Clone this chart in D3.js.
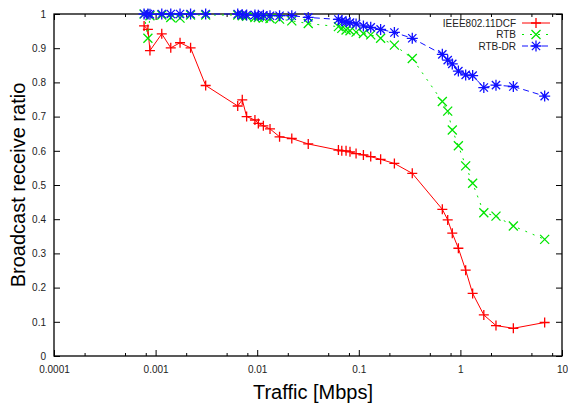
<!DOCTYPE html>
<html>
<head>
<meta charset="utf-8">
<script src="https://cdn.jsdelivr.net/npm/d3@7"></script>
<style>
body { margin:0; background:#fff; }
text { font-family: "Liberation Sans", Arial, sans-serif; }
.tick text { font-size:10px; fill:#222; }
.label { font-size:20px; fill:#000; }
.legend { font-size:10px; fill:#222; }
</style>
</head>
<body>
<svg id="chart"></svg>
<script>
// traffic loads (Mbps), shared by all three runs
var traffic = [0.00077, 0.00084, 0.00088, 0.00115, 0.00141, 0.00174, 0.00221, 0.00311,
    0.00643, 0.00713, 0.00787, 0.0095, 0.01026, 0.0115, 0.01337, 0.0166, 0.0219, 0.0318,
    0.063, 0.068, 0.0749, 0.0819, 0.094, 0.111, 0.131, 0.164, 0.224, 0.336,
    0.664, 0.75, 0.832, 0.955, 1.127, 1.32, 1.7, 2.24, 3.32, 6.75];

var dcf = [0.965, 0.955, 0.893, 0.942, 0.901, 0.916, 0.901, 0.791,
    0.731, 0.749, 0.700, 0.690, 0.680, 0.673, 0.664, 0.641, 0.636, 0.620,
    0.602, 0.600, 0.600, 0.597, 0.592, 0.588, 0.583, 0.575, 0.563, 0.534,
    0.429, 0.398, 0.359, 0.315, 0.251, 0.183, 0.120, 0.089, 0.081, 0.098];

var rtb = [1.0, 0.929, 0.995, 0.997, 0.990, 0.988, 0.997, 0.997,
    0.997, 0.995, 0.993, 0.990, 0.990, 0.988, 0.987, 0.985, 0.980, 0.972,
    0.963, 0.958, 0.953, 0.951, 0.947, 0.943, 0.939, 0.929, 0.909, 0.870,
    0.744, 0.716, 0.661, 0.615, 0.556, 0.505, 0.419, 0.409, 0.380, 0.341];

var rtbdr = [1.0, 1.0, 0.999, 1.0, 1.0, 1.0, 1.0, 1.0,
    1.0, 0.998, 0.997, 0.997, 0.996, 0.996, 0.995, 0.995, 0.995, 0.990,
    0.984, 0.980, 0.977, 0.975, 0.971, 0.965, 0.961, 0.955, 0.946, 0.929,
    0.882, 0.865, 0.854, 0.833, 0.822, 0.820, 0.785, 0.792, 0.788, 0.760];

var seriesNames = ["IEEE802.11DCF", "RTB", "RTB-DR"];
var xTicks = [0.0001, 0.001, 0.01, 0.1, 1, 10];
var xTickLabels = ["0.0001", "0.001", "0.01", "0.1", "1", "10"];
var yTicks = [0, 0.1, 0.2, 0.3, 0.4, 0.5, 0.6, 0.7, 0.8, 0.9, 1];
var minorSteps = [2, 5, 8];

var screen = {width:568, height:405};
var margins = {left:54, right:6, top:14, bottom:49};
var graph = {
    width: screen.width - margins.left - margins.right,
    height: screen.height - margins.top - margins.bottom
};

var svg = d3.select("#chart")
    .attr("width", screen.width)
    .attr("height", screen.height);

var xScale = d3.scaleLog().domain([0.0001, 10]).range([0, graph.width]);
var yScale = d3.scaleLinear().domain([0, 1]).range([graph.height, 0]);

var plot = svg.append("g")
    .attr("transform", "translate(" + margins.left + "," + margins.top + ")");

// minor x ticks
var minors = [];
xTicks.slice(0, -1).forEach(function(t) {
    minorSteps.forEach(function(m) { minors.push(t * m); });
});

var drawAxes = function() {
    var bottom = d3.axisBottom(xScale).tickValues(xTicks)
        .tickFormat(function(d, i) { return xTickLabels[i]; })
        .tickSizeInner(-6).tickSizeOuter(0).tickPadding(10);
    var left = d3.axisLeft(yScale).tickValues(yTicks)
        .tickFormat(d3.format("")).tickSizeInner(-6).tickSizeOuter(0).tickPadding(8);

    plot.append("g").attr("transform", "translate(0," + graph.height + ")").call(bottom);
    plot.append("g").call(left);
    plot.append("g").call(d3.axisTop(xScale).tickValues(xTicks)
        .tickFormat("").tickSizeInner(-6).tickSizeOuter(0));
    plot.append("g").attr("transform", "translate(" + graph.width + ",0)")
        .call(d3.axisRight(yScale).tickValues(yTicks).tickFormat("").tickSizeInner(-6).tickSizeOuter(0));

    plot.append("g").attr("transform", "translate(0," + graph.height + ")")
        .call(d3.axisBottom(xScale).tickValues(minors).tickFormat("").tickSizeInner(-3).tickSizeOuter(0));
    plot.append("g")
        .call(d3.axisTop(xScale).tickValues(minors).tickFormat("").tickSizeInner(-3).tickSizeOuter(0));

    plot.selectAll(".domain").remove();
    plot.selectAll(".tick line").attr("stroke", "#000");

    plot.append("rect")
        .attr("width", graph.width).attr("height", graph.height)
        .attr("fill", "none").attr("stroke", "#000").attr("stroke-width", 1.3);
};

var plusPath = function(x, y, r) {
    return "M" + (x - r) + "," + y + "H" + (x + r) + "M" + x + "," + (y - r) + "V" + (y + r);
};
var crossPath = function(x, y, r) {
    return "M" + (x - r) + "," + (y - r) + "L" + (x + r) + "," + (y + r) +
        "M" + (x - r) + "," + (y + r) + "L" + (x + r) + "," + (y - r);
};
var starPath = function(x, y, r) {
    return plusPath(x, y, r) + crossPath(x, y, r * 0.75);
};

var styles = [
    {color:"#ff0000", dash:null, marker:plusPath, r:5},
    {color:"#00e600", dash:"2,6", marker:crossPath, r:4.5},
    {color:"#1010ff", dash:"6,4", marker:starPath, r:5.5}
];

var drawSeries = function(values, st) {
    var line = d3.line()
        .x(function(d, i) { return xScale(traffic[i]); })
        .y(function(d) { return yScale(d); });
    plot.append("path")
        .datum(values)
        .attr("fill", "none")
        .attr("stroke", st.color)
        .attr("stroke-width", 1)
        .attr("stroke-dasharray", st.dash)
        .attr("d", line);
    plot.append("g").selectAll("path")
        .data(values)
        .enter().append("path")
        .attr("d", function(d, i) { return st.marker(xScale(traffic[i]), yScale(d), st.r); })
        .attr("stroke", st.color)
        .attr("stroke-width", 1.3)
        .attr("fill", "none");
};

var drawLegend = function() {
    var lg = svg.append("g");
    seriesNames.forEach(function(name, i) {
        var y = 23 + i * 11.5;
        var st = styles[i];
        lg.append("text").classed("legend", true)
            .attr("x", 516).attr("y", y + 3.5)
            .attr("text-anchor", "end").text(name);
        lg.append("line")
            .attr("x1", 522).attr("x2", 550).attr("y1", y).attr("y2", y)
            .attr("stroke", st.color).attr("stroke-dasharray", st.dash);
        lg.append("path").attr("d", st.marker(536, y, st.r))
            .attr("stroke", st.color).attr("stroke-width", 1.3).attr("fill", "none");
    });
};

var drawLabels = function() {
    svg.append("text").classed("label", true)
        .attr("text-anchor", "middle")
        .attr("x", 313)
        .attr("y", 399)
        .text("Traffic [Mbps]");
    svg.append("text").classed("label", true)
        .attr("text-anchor", "middle")
        .attr("transform", "translate(25,185) rotate(-90)")
        .text("Broadcast receive ratio");
};

drawAxes();
drawSeries(dcf, styles[0]);
drawSeries(rtb, styles[1]);
drawSeries(rtbdr, styles[2]);
drawLegend();
drawLabels();
</script>
</body>
</html>
